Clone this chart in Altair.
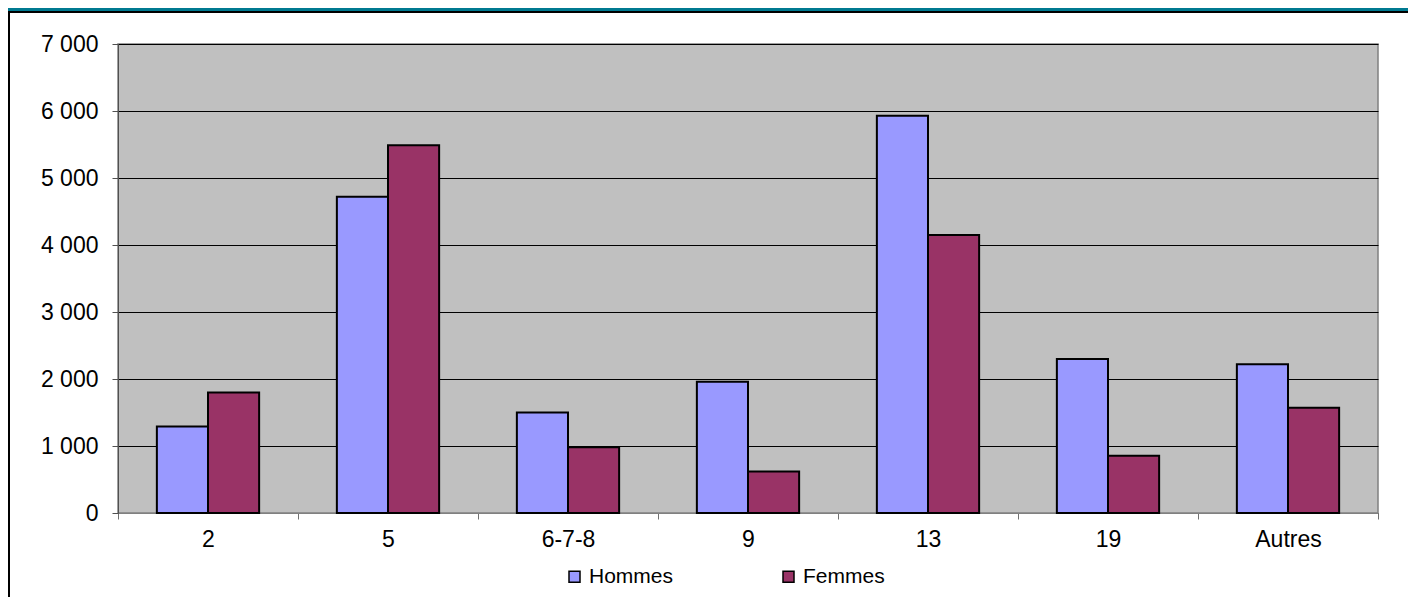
import altair as alt
import pandas as pd

categories = ["2", "5", "6-7-8", "9", "13", "19", "Autres"]
series = ["Hommes", "Femmes"]
hommes = [1290, 4720, 1500, 1960, 5930, 2300, 2220]
femmes = [1800, 5490, 980, 620, 4150, 855, 1570]
colors = ["#9999FF", "#993366"]
y_ticks = [0, 1000, 2000, 3000, 4000, 5000, 6000, 7000]

rows = []
for c, h, f in zip(categories, hommes, femmes):
    rows.append({"cat": c, "sexe": "Hommes", "val": h})
    rows.append({"cat": c, "sexe": "Femmes", "val": f})
df = pd.DataFrame(rows)

W, H = 1260, 469
PL, PT, PR, PB = 110, 36, 30, 84
FONT = "Liberation Sans"

bars = alt.Chart(df).mark_bar(stroke="#000000", strokeWidth=2).encode(
    x=alt.X("cat:N", sort=categories, title=None,
            scale=alt.Scale(paddingInner=0, paddingOuter=0),
            axis=alt.Axis(labelAngle=0, labelFont=FONT, labelFontSize=23,
                          labelColor="#000000", labelPadding=9, tickSize=6,
                          tickBand="extent", tickColor="#707070",
                          domainColor="#808080", grid=False)),
    xOffset=alt.XOffset("sexe:N", sort=series,
                        scale=alt.Scale(paddingInner=0, paddingOuter=0.76)),
    y=alt.Y("val:Q", title=None,
            scale=alt.Scale(domain=[0, 7000], nice=False),
            axis=alt.Axis(values=y_ticks, labelFont=FONT, labelFontSize=23,
                          labelColor="#000000", labelPadding=14, tickSize=6,
                          tickColor="#505050", domainColor="#505050",
                          gridColor="#000000", gridWidth=1,
                          labelExpr="replace(format(datum.value, ','), ',', ' ')")),
    color=alt.Color("sexe:N", sort=series,
                    scale=alt.Scale(domain=series, range=colors),
                    legend=alt.Legend(title=None, orient="none", direction="horizontal",
                                      legendX=446, legendY=522, padding=0,
                                      symbolType="square", symbolSize=121,
                                      symbolStrokeColor="#000000", symbolStrokeWidth=1.5,
                                      labelFont=FONT, labelFontSize=21,
                                      labelColor="#000000", labelOffset=4,
                                      columnPadding=104)),
)

deco = pd.DataFrame({"k": [0]})
band = alt.Chart(deco).mark_rect(color="#007A91").encode(
    x=alt.value(-PL), x2=alt.value(W + PR), y=alt.value(-PT), y2=alt.value(-PT + 3))
topline = alt.Chart(deco).mark_rect(color="#000000").encode(
    x=alt.value(-PL), x2=alt.value(W + PR), y=alt.value(-PT + 3), y2=alt.value(-PT + 5))
leftline = alt.Chart(deco).mark_rect(color="#000000").encode(
    x=alt.value(-PL), x2=alt.value(-PL + 2), y=alt.value(-PT + 3), y2=alt.value(H + PB))

chart = alt.layer(bars, band, topline, leftline).properties(
    width=W, height=H,
    autosize=alt.AutoSizeParams(type="none"),
    padding={"left": PL, "top": PT, "right": PR, "bottom": PB},
    background="#FFFFFF",
).configure_view(fill="#C0C0C0", stroke="#808080", strokeWidth=1.5)

chart.save("out.html", embed_options={"renderer": "svg", "actions": False})
